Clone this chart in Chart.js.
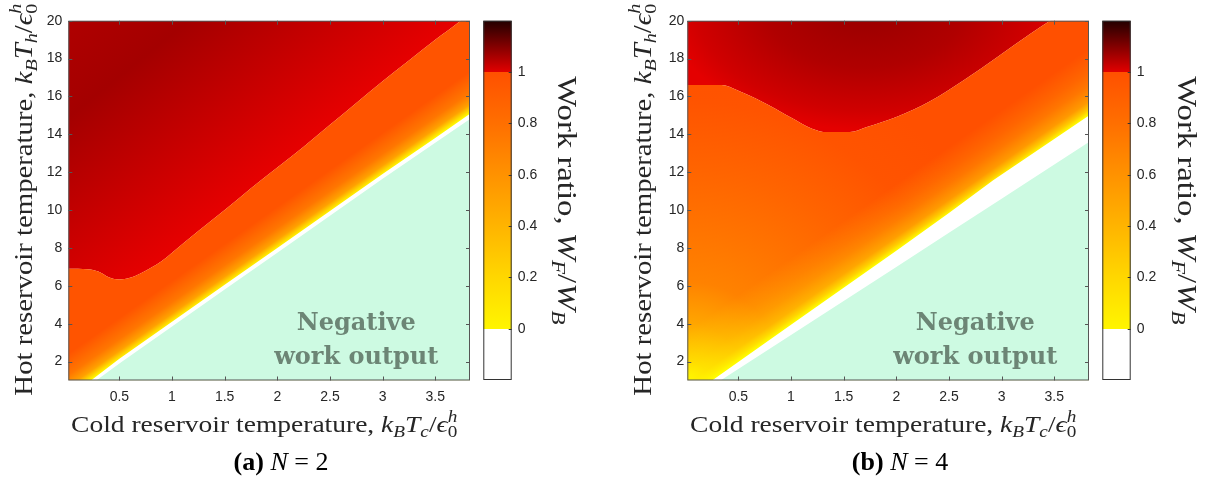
<!DOCTYPE html>
<html>
<head>
<meta charset="utf-8">
<script src="https://cdn.jsdelivr.net/npm/chart.js@4.4.1/dist/chart.umd.min.js"></script>
<style>
  html, body { margin: 0; padding: 0; background: #fff; }
  #wrap { position: relative; width: 1206px; height: 477px; overflow: hidden; }
  #wrap canvas { position: absolute; top: 0; }
</style>
</head>
<body>
<div id="wrap">
  <canvas id="mapA" width="480" height="477" style="left:0"></canvas>
  <canvas id="barA" width="124" height="477" style="left:476px"></canvas>
  <canvas id="mapB" width="500" height="477" style="left:600px"></canvas>
  <canvas id="barB" width="111" height="477" style="left:1095px"></canvas>
</div>
<script>
const SERIF = '"Liberation Serif", "DejaVu Serif", serif';
const SANS = '"Liberation Sans", Arial, sans-serif';
const INK = '#262626';
const MINT = '#cdfae2';

// axes
const xTicks = [0.5, 1, 1.5, 2, 2.5, 3, 3.5];
const yTicks = [2, 4, 6, 8, 10, 12, 14, 16, 18, 20];
const cbTicks = [0, 0.2, 0.4, 0.6, 0.8, 1];
const cbRange = [-0.2, 1.2];

// colour scale of the work ratio
const cmapVals = [-0.2, 0, 0, 0.2, 0.4, 0.6, 0.8, 1, 1, 1.2];
const cmapCols = ['#ffffff', '#ffffff', '#fff500', '#ffd700', '#ffb400', '#ff9200', '#ff6f00', '#ff5000', '#e20000', '#230000'];

// (a) N = 2 : contour where W_F/W_B = 1
const redXa = [0, 0.2, 0.3, 0.4, 0.5, 0.6, 0.7, 0.8, 0.9, 1.0, 1.25, 1.5, 1.75, 2.0, 2.25, 2.5, 2.75, 3.0, 3.25, 3.5, 3.74, 3.84];
const redYa = [6.9, 6.88, 6.75, 6.45, 6.33, 6.42, 6.65, 6.95, 7.3, 7.75, 8.9, 10.0, 11.15, 12.25, 13.35, 14.5, 15.65, 16.8, 17.9, 19.0, 20.0, 20.5];
// (a) contour where W_F/W_B = 0
const zeroXa = [0.23, 0.5, 1.0, 1.5, 2.0, 2.5, 3.0, 3.5, 3.84];
const zeroYa = [1, 2.15, 4.1, 6.05, 8.0, 9.95, 11.9, 13.8, 15.12];
// (a) edge of the negative work region
const negXa = [0.28, 0.5, 1.0, 1.5, 2.0, 2.5, 3.0, 3.5, 3.84];
const negYa = [1, 1.9, 3.85, 5.8, 7.75, 9.7, 11.65, 13.55, 14.85];

// (b) N = 4
const redXb = [0, 0.34, 0.49, 0.73, 0.99, 1.2, 1.34, 1.56, 1.72, 2.0, 2.32, 2.64, 2.95, 3.27, 3.46, 3.84];
const redYb = [16.6, 16.6, 16.33, 15.71, 14.92, 14.3, 14.12, 14.12, 14.39, 14.92, 15.75, 16.86, 18.05, 19.3, 20.0, 21.4];
const zeroXb = [0.25, 1.0, 1.5, 2.0, 2.5, 2.92, 3.5, 3.83];
const zeroYb = [1, 3.95, 5.9, 7.85, 9.85, 11.57, 13.75, 15.0];
const negXb = [0.33, 1.0, 1.5, 2.0, 2.5, 3.0, 3.27, 3.83];
const negYb = [1, 3.4, 5.2, 7.0, 8.8, 10.6, 11.57, 13.6];

const noteText = ['Negative', 'work output'];
const notePos = [2.75, 3.66, 1.86];

const xTitle = [['Cold reservoir temperature, ', ''], ['k', 'i'], ['B', 'i_'], ['T', 'i'], ['c', 'i_'], ['/', ''], ['\u03f5', 'i'], ['0', '_'], ['h', 'i^o']];
const yTitle = [['Hot reservoir temperature, ', ''], ['k', 'i'], ['B', 'i_'], ['T', 'i'], ['h', 'i_'], ['/', ''], ['\u03f5', 'i'], ['0', '_'], ['h', 'i^o']];
const cbTitle = [['Work ratio, ', ''], ['W', 'i'], ['F', 'i_'], ['/', ''], ['W', 'i'], ['B', 'i_']];

const panels = [
  {
    map: 'mapA', bar: 'barA', tag: '(a)', n: ' = 2',
    redX: redXa, redY: redYa, zeroX: zeroXa, zeroY: zeroYa, negX: negXa, negY: negYa,
    red: { kind: 'linear', from: [1.5, 10], to: [0.01, 20.3],
      stops: [[0, '#e60000'], [0.35, '#c40000'], [0.68, '#a40000'], [1, '#b00000']] },
    base: { kind: 'solid', color: '#ff5400' },
    glow: { len: 35, stops: [[0, 1], [0.06, 0.85], [0.23, 0.45], [0.5, 0.2], [0.83, 0.07], [1, 0]] },
    yW: 68.3, rightPad: 10, yPad: 6, yTitleX: 31.5, capX: 281,
    barW: 88.3, cbTitleX: 82,
  },
  {
    map: 'mapB', bar: 'barB', tag: '(b)', n: ' = 4',
    redX: redXb, redY: redYb, zeroX: zeroXb, zeroY: zeroYb, negX: negXb, negY: negYb,
    red: { kind: 'ellipse', c: [1.7, 20.83], rx: 200, ry: 125,
      stops: [[0, '#960000'], [0.5, '#b00000'], [0.85, '#d00000'], [1, '#e40000']] },
    base: { kind: 'radial', c: [0.015, 1], r: 340,
      stops: [[0, '#fff500'], [0.06, '#ffd200'], [0.17, '#ffa500'], [0.29, '#ff8200'], [0.42, '#ff7600'], [0.62, '#ff6400'], [0.82, '#ff5400'], [1, '#ff5000']] },
    glow: { len: 55, stops: [[0, 1], [0.09, 0.7], [0.21, 0.42], [0.45, 0.22], [0.65, 0.12], [1, 0]] },
    yW: 87.3, rightPad: 11, yPad: 3, yTitleX: 50.5, capX: 300,
    barW: 75.3, cbTitleX: 83,
  },
];

function pts(xs, ys) {
  return xs.map((x, i) => ({ x, y: ys[i] }));
}

// mixed roman / italic / sub / sup text, centred on (cx, baseline cy); sx widens it a little
function drawRich(ctx, parts, cx, cy, size, rot, sx = 1) {
  ctx.save();
  ctx.translate(cx, cy);
  ctx.rotate(rot);
  ctx.scale(sx, 1);
  ctx.textAlign = 'left';
  ctx.textBaseline = 'alphabetic';
  const items = [];
  let w = 0, prevX = 0;
  for (const [t, st] of parts) {
    const small = st.includes('_') || st.includes('^');
    const fs = small ? size * 0.7 : size;
    const font = (st.includes('b') ? 'bold ' : '') + (st.includes('i') ? 'italic ' : '') + fs + 'px ' + SERIF;
    ctx.font = font;
    const tw = ctx.measureText(t).width;
    const over = st.includes('o');
    const x = over ? prevX : w;
    const dy = st.includes('_') ? size * 0.22 : st.includes('^') ? -size * 0.42 : 0;
    items.push({ t, font, x, dy });
    if (over) w = Math.max(w, x + tw);
    else { prevX = x; w = x + tw; }
  }
  for (const it of items) {
    ctx.font = it.font;
    ctx.fillText(it.t, it.x - w / 2, it.dy);
  }
  ctx.restore();
}

function addStops(g, stops, fn) {
  stops.forEach(([t, c]) => g.addColorStop(t, fn ? fn(c) : c));
}

// pre-painted fills for the two work-ratio regions, positioned with the chart scales
function regionFill(chart, p, which) {
  const a = chart.chartArea;
  if (!a) return 'transparent';
  chart.$fills = chart.$fills || {};
  const key = which + a.left + ':' + a.bottom;
  if (chart.$fills[key]) return chart.$fills[key];
  const X = v => chart.scales.x.getPixelForValue(v);
  const Y = v => chart.scales.y.getPixelForValue(v);
  const cv = document.createElement('canvas');
  cv.width = chart.width;
  cv.height = chart.height;
  const g = cv.getContext('2d');
  if (which === 'red') {
    const r = p.red;
    if (r.kind === 'linear') {
      const gr = g.createLinearGradient(X(r.from[0]), Y(r.from[1]), X(r.to[0]), Y(r.to[1]));
      addStops(gr, r.stops);
      g.fillStyle = gr;
      g.fillRect(0, 0, cv.width, cv.height);
    } else {
      g.save();
      g.translate(X(r.c[0]), Y(r.c[1]));
      g.scale(1, r.ry / r.rx);
      const gr = g.createRadialGradient(0, 0, 0, 0, 0, r.rx);
      addStops(gr, r.stops);
      g.fillStyle = gr;
      g.fillRect(-2000, -4000, 4000, 8000);
      g.restore();
    }
  } else {
    const b = p.base;
    if (b.kind === 'solid') {
      g.fillStyle = b.color;
    } else {
      const gr = g.createRadialGradient(X(b.c[0]), Y(b.c[1]), 0, X(b.c[0]), Y(b.c[1]), b.r);
      addStops(gr, b.stops);
      g.fillStyle = gr;
    }
    g.fillRect(0, 0, cv.width, cv.height);
    // yellow glow along the zero-work contour
    const n0 = p.zeroX.length - 1;
    const x0 = X(p.zeroX[0]), y0 = Y(p.zeroY[0]);
    const dx = X(p.zeroX[n0]) - x0, dy = Y(p.zeroY[n0]) - y0;
    const len = Math.hypot(dx, dy);
    const nx = dy / len, ny = -dx / len;
    const gl = g.createLinearGradient(x0, y0, x0 + nx * p.glow.len, y0 + ny * p.glow.len);
    addStops(gl, p.glow.stops, al => 'rgba(255,255,0,' + al + ')');
    g.fillStyle = gl;
    g.fillRect(0, 0, cv.width, cv.height);
  }
  const pat = chart.ctx.createPattern(cv, 'no-repeat');
  chart.$fills[key] = pat;
  return pat;
}

const mapDeco = {
  id: 'mapDeco',
  afterDatasetsDraw(chart, args, o) {
    const { ctx, chartArea: a, scales: { x, y } } = chart;
    ctx.save();
    ctx.fillStyle = '#6c8575';
    ctx.font = 'bold 24px "DejaVu Serif", serif';
    ctx.textAlign = 'center';
    ctx.textBaseline = 'alphabetic';
    ctx.fillText(noteText[0], x.getPixelForValue(notePos[0]), y.getPixelForValue(notePos[1]));
    ctx.fillText(noteText[1], x.getPixelForValue(notePos[0]), y.getPixelForValue(notePos[2]));
    // box and inward ticks
    ctx.strokeStyle = '#555555';
    ctx.lineWidth = 1;
    ctx.strokeRect(a.left + 0.5, a.top + 0.5, a.right - a.left - 1, a.bottom - a.top - 1);
    ctx.beginPath();
    xTicks.forEach(v => {
      const px = Math.round(x.getPixelForValue(v)) + 0.5;
      ctx.moveTo(px, a.bottom); ctx.lineTo(px, a.bottom - 4);
      ctx.moveTo(px, a.top); ctx.lineTo(px, a.top + 4);
    });
    yTicks.forEach(v => {
      const py = Math.round(y.getPixelForValue(v)) + 0.5;
      ctx.moveTo(a.left, py); ctx.lineTo(a.left + 4, py);
      ctx.moveTo(a.right, py); ctx.lineTo(a.right - 4, py);
    });
    ctx.stroke();
    ctx.restore();
  },
  afterDraw(chart, args, o) {
    const { ctx, chartArea: a } = chart;
    ctx.save();
    ctx.fillStyle = INK;
    drawRich(ctx, xTitle, (a.left + a.right) / 2 - 5, 431.7, 24, 0, 1.146);
    drawRich(ctx, yTitle, o.yTitleX, (a.top + a.bottom) / 2 - 1, 25, -Math.PI / 2, 1.15);
    ctx.fillStyle = '#000000';
    drawRich(ctx, [[o.tag, 'b'], [' ', ''], ['N', 'i'], [o.n, '']], o.capX, 470, 26, 0);
    ctx.restore();
  },
};

const barDeco = {
  id: 'barDeco',
  afterDraw(chart, args, o) {
    const { ctx, chartArea: a, scales: { y } } = chart;
    ctx.save();
    ctx.strokeStyle = '#333333';
    ctx.lineWidth = 1;
    ctx.strokeRect(a.left + 0.5, a.top + 0.5, a.right - a.left - 1, a.bottom - a.top - 1);
    ctx.beginPath();
    cbTicks.forEach(v => {
      const py = Math.round(y.getPixelForValue(v)) + 0.5;
      ctx.moveTo(a.right, py); ctx.lineTo(a.right - 3, py);
    });
    ctx.stroke();
    ctx.fillStyle = INK;
    drawRich(ctx, cbTitle, o.titleX, (a.top + a.bottom) / 2, 28, Math.PI / 2, 1.17);
    ctx.restore();
  },
};

const tickFont = { family: SANS, size: 14 };

panels.forEach(p => {
  const common = { borderWidth: 0, borderColor: 'transparent', pointRadius: 0, tension: 0 };
  new Chart(document.getElementById(p.map), {
    type: 'line',
    data: {
      datasets: [
        { ...common, label: 'W_F/W_B > 1', data: pts(p.redX, p.redY), fill: 'end', cubicInterpolationMode: 'monotone',
          backgroundColor: c => regionFill(c.chart, p, 'red'), order: 4 },
        { ...common, label: '0 < W_F/W_B < 1', data: pts(p.redX, p.redY), fill: 'start', cubicInterpolationMode: 'monotone',
          backgroundColor: c => regionFill(c.chart, p, 'work'), order: 3 },
        { ...common, label: 'W_F/W_B < 0', data: pts(p.zeroX, p.zeroY), fill: 'start',
          backgroundColor: '#ffffff', order: 2 },
        { ...common, label: 'Negative work output', data: pts(p.negX, p.negY), fill: 'start',
          backgroundColor: MINT, order: 1 },
      ],
    },
    options: {
      responsive: false,
      animation: false,
      events: [],
      layout: { padding: { top: 20.7, right: p.rightPad, left: 0, bottom: 0 } },
      plugins: {
        legend: { display: false },
        tooltip: { enabled: false },
        mapDeco: { tag: p.tag, n: p.n, yTitleX: p.yTitleX, capX: p.capX },
      },
      scales: {
        x: {
          type: 'linear', min: 0.015, max: 3.83,
          afterBuildTicks: s => { s.ticks = xTicks.map(v => ({ value: v })); },
          afterFit: s => { s.height = 96.5; },
          grid: { display: false, drawTicks: false },
          border: { display: false },
          ticks: { font: tickFont, color: INK, padding: 8, maxRotation: 0, callback: v => String(v) },
        },
        y: {
          type: 'linear', min: 1, max: 20,
          afterBuildTicks: s => { s.ticks = yTicks.map(v => ({ value: v })); },
          afterFit: s => { s.width = p.yW; },
          grid: { display: false, drawTicks: false },
          border: { display: false },
          ticks: { font: tickFont, color: INK, padding: p.yPad, callback: v => String(v) },
        },
      },
    },
    plugins: [mapDeco],
  });

  new Chart(document.getElementById(p.bar), {
    type: 'bar',
    data: {
      labels: [''],
      datasets: [{
        data: [cbRange],
        borderWidth: 0,
        barPercentage: 1,
        categoryPercentage: 1,
        backgroundColor: c => {
          const ch = c.chart;
          if (!ch.chartArea) return 'transparent';
          const ys = ch.scales.y;
          const g = ch.ctx.createLinearGradient(0, ys.getPixelForValue(cbRange[0]), 0, ys.getPixelForValue(cbRange[1]));
          cmapVals.forEach((v, i) => g.addColorStop((v - cbRange[0]) / (cbRange[1] - cbRange[0]), cmapCols[i]));
          return g;
        },
      }],
    },
    options: {
      responsive: false,
      animation: false,
      events: [],
      layout: { padding: { top: 20.7, left: 7.3, right: 0, bottom: 97 } },
      plugins: { legend: { display: false }, tooltip: { enabled: false }, barDeco: { titleX: p.cbTitleX } },
      scales: {
        x: { display: false },
        y: {
          position: 'right', min: cbRange[0], max: cbRange[1],
          afterBuildTicks: s => { s.ticks = cbTicks.map(v => ({ value: v })); },
          afterFit: s => { s.width = p.barW; },
          grid: { display: false, drawTicks: false },
          border: { display: false },
          ticks: { font: tickFont, color: INK, padding: 6, callback: v => String(v) },
        },
      },
    },
    plugins: [barDeco],
  });
});
</script>
</body>
</html>
